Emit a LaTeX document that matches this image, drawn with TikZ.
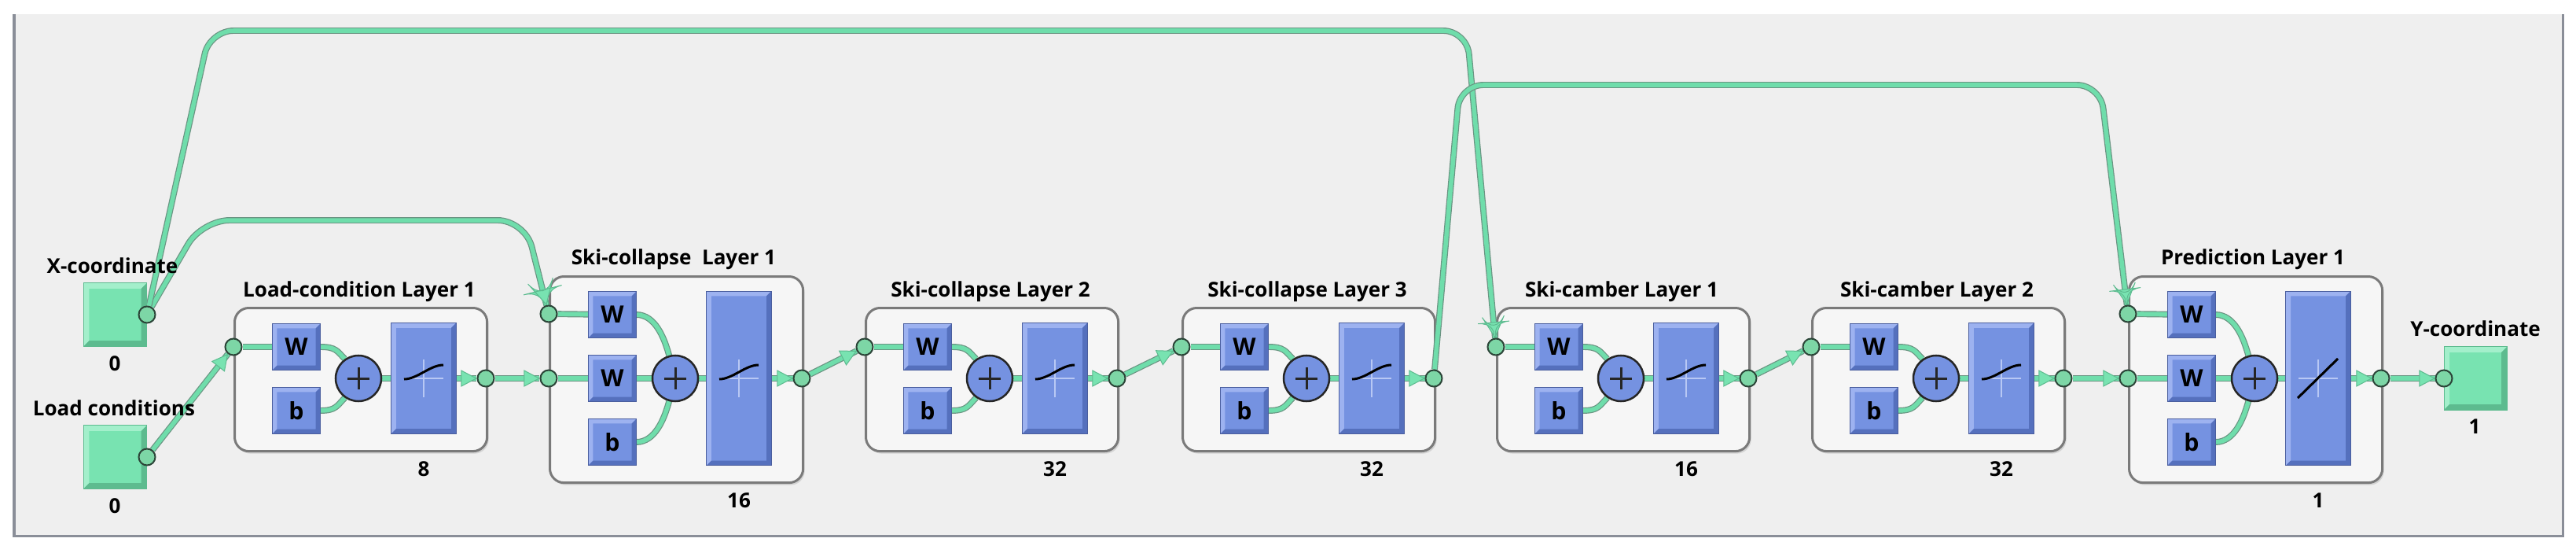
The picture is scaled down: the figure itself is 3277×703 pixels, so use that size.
\documentclass[tikz,border=0pt]{standalone}
\usepackage{fontspec}
\setmainfont{Open Sans}
\usetikzlibrary{decorations.markings,shadows}
\pgfdeclarelayer{bg}
\pgfdeclarelayer{wires}
\pgfsetlayers{bg,wires,main}
\definecolor{panelbg}{HTML}{EFEFEF}
\definecolor{paneledge}{HTML}{8A8E98}
\definecolor{boxfill}{HTML}{F6F6F6}
\definecolor{boxedge}{HTML}{7A7A7A}
\definecolor{blk}{HTML}{7592E1}
\definecolor{blklight}{HTML}{9DB2F0}
\definecolor{blkdark}{HTML}{5570BD}
\definecolor{blkedge}{HTML}{4A5E9E}
\definecolor{grn}{HTML}{78E3B1}
\definecolor{grnlight}{HTML}{A3EFCB}
\definecolor{grndark}{HTML}{5DBB8F}
\definecolor{wiregrn}{HTML}{6FDDAB}
\definecolor{wireedge}{HTML}{6A9482}
\definecolor{portgrn}{HTML}{7DD6A6}
\definecolor{portedge}{HTML}{2B4538}
\definecolor{crossw}{HTML}{B8C8F4}
\newcommand\mybevel[3]{%
  \fill[#1] (path picture bounding box.north west) -- (path picture bounding box.north east)
     -- ([shift={(-#3,-#3)}]path picture bounding box.north east)
     -- ([shift={(#3,-#3)}]path picture bounding box.north west)
     -- ([shift={(#3,#3)}]path picture bounding box.south west)
     -- (path picture bounding box.south west) -- cycle;
  \fill[#2] (path picture bounding box.south east) -- (path picture bounding box.south west)
     -- ([shift={(#3,#3)}]path picture bounding box.south west)
     -- ([shift={(-#3,#3)}]path picture bounding box.south east)
     -- ([shift={(-#3,-#3)}]path picture bounding box.north east)
     -- (path picture bounding box.north east) -- cycle;}
\tikzset{
  lbl/.style={font=\bfseries\fontsize{7.4}{8}\selectfont, inner sep=0pt, anchor=base},
  bluebox/.style={fill=blk, draw=blkedge, line width=0.01cm, inner sep=0pt, outer sep=0pt,
     font=\bfseries\fontsize{8.6}{9}\selectfont,
     path picture={\mybevel{blklight}{blkdark}{0.06cm}}},
  wblk/.style={bluebox, minimum width=0.61cm, minimum height=0.59cm},
  tfblk/.style={bluebox, minimum width=0.82cm},
  plusnode/.style={circle, fill=blk, draw=black!85, line width=0.025cm, minimum size=0.58cm, inner sep=0pt,
     path picture={\draw[line width=0.03cm] ([xshift=-0.14cm]path picture bounding box.center) -- ([xshift=0.14cm]path picture bounding box.center);
                   \draw[line width=0.03cm] ([yshift=-0.14cm]path picture bounding box.center) -- ([yshift=0.14cm]path picture bounding box.center);}},
  port/.style={circle, fill=portgrn, draw=portedge, line width=0.02cm, minimum size=0.21cm, inner sep=0pt},
  sq/.style={fill=grn, draw=grndark, line width=0.01cm, minimum size=0.8cm, inner sep=0pt,
     path picture={\mybevel{grnlight}{grndark}{0.07cm}}},
  layerbox/.style={draw=boxedge, line width=0.03cm, fill=boxfill, rounded corners=0.18cm,
     inner sep=0pt, anchor=north west,
     drop shadow={opacity=0.25, shadow xshift=0.02cm, shadow yshift=-0.03cm}},
  wire/.style={draw=wireedge, line width=0.012cm, double=wiregrn, double distance=0.055cm},
  awire/.style={wire, postaction={decorate, decoration={markings,
     mark=at position -0.2pt with {\fill[draw=grndark, fill=grn, line width=0.01cm] (0,0) -- (-0.19cm,0.1cm) -- (-0.19cm,-0.1cm) -- cycle;}}}},
  glyph/.style={line width=0.03cm, black},
  crossline/.style={crossw, line width=0.02cm}
}
\newcommand\tansig[1]{%
  \draw[crossline] ([xshift=-0.25cm]#1.center) -- ([xshift=0.25cm]#1.center);
  \draw[crossline] ([yshift=-0.24cm]#1.center) -- ([yshift=0.24cm]#1.center);
  \draw[glyph] ([shift={(-0.25cm,-0.01cm)}]#1.center) .. controls +(0.17cm,0) and +(-0.17cm,0) .. ([shift={(0.25cm,0.17cm)}]#1.center);}
\newcommand\purelin[1]{%
  \draw[crossline] ([xshift=-0.25cm]#1.center) -- ([xshift=0.25cm]#1.center);
  \draw[crossline] ([yshift=-0.24cm]#1.center) -- ([yshift=0.24cm]#1.center);
  \draw[glyph] ([shift={(-0.26cm,-0.25cm)}]#1.center) -- ([shift={(0.25cm,0.25cm)}]#1.center);}
% standard layer: name, left x, title, size
\newcommand\stdlayer[4]{%
  \begin{pgfonlayer}{bg}
    \node[layerbox, minimum width=3.21cm, minimum height=1.82cm] (#1box) at (#2,390) {};
  \end{pgfonlayer}
  \node[lbl] (#1title) at ({#2+160},377) {#3};
  \node[lbl] (#1size) at ({#2+242},605) {#4};
  \node[wblk] (#1W) at ({#2+80},441) {W};
  \node[wblk] (#1b) at ({#2+80},522) {b};
  \node[plusnode] (#1plus) at ({#2+159},481) {};
  \node[tfblk, minimum height=1.40cm] (#1tf) at ({#2+242},481) {};
  \node[port] (#1in) at (#2,441) {};
  \node[port] (#1out) at ({#2+321},481) {};
  \begin{pgfonlayer}{wires}
    \draw[wire] (#1in) -- (#1W);
    \draw[wire] (#1W.east) .. controls +(0.2cm,0) and +(-0.1cm,0.1cm) .. (#1plus.125);
    \draw[wire] (#1b.east) .. controls +(0.2cm,0) and +(-0.1cm,-0.1cm) .. (#1plus.235);
    \draw[wire] (#1plus) -- (#1tf);
    \draw[awire] (#1tf) -- (#1out);
  \end{pgfonlayer}
  \tansig{#1tf}}
% three-input layer: name, left x, title, size, glyph
\newcommand\trilayer[5]{%
  \begin{pgfonlayer}{bg}
    \node[layerbox, minimum width=3.22cm, minimum height=2.62cm] (#1box) at (#2,350) {};
  \end{pgfonlayer}
  \node[lbl] (#1title) at ({#2+159},336) {#3};
  \node[lbl] (#1size) at ({#2+242},645) {#4};
  \node[wblk] (#1Wa) at ({#2+81},400) {W};
  \node[wblk] (#1Wb) at ({#2+81},481) {W};
  \node[wblk] (#1b) at ({#2+81},562) {b};
  \node[plusnode] (#1plus) at ({#2+161},481) {};
  \node[tfblk, minimum height=2.21cm] (#1tf) at ({#2+242},481) {};
  \node[port] (#1top) at (#2,399) {};
  \node[port] (#1in) at (#2,481) {};
  \node[port] (#1out) at ({#2+322},481) {};
  \begin{pgfonlayer}{wires}
    \draw[wire] (#1top) -- (#1Wa);
    \draw[wire] (#1in) -- (#1Wb);
    \draw[wire] (#1Wa.east) .. controls +(0.24cm,0) and +(-0.06cm,0.22cm) .. (#1plus.105);
    \draw[wire] (#1b.east) .. controls +(0.24cm,0) and +(-0.06cm,-0.22cm) .. (#1plus.255);
    \draw[wire] (#1Wb) -- (#1plus);
    \draw[wire] (#1plus) -- (#1tf);
    \draw[awire] (#1tf) -- (#1out);
  \end{pgfonlayer}
  #5{#1tf}}
\begin{document}
\begin{tikzpicture}[x=0.01cm, y=-0.01cm]
\useasboundingbox (0,0) rectangle (3277,703);
\begin{pgfonlayer}{bg}
  \fill[white] (0,0) rectangle (3277,703);
  \fill[panelbg] (18,18) rectangle (3260,681);
  \draw[paneledge, line width=0.03cm] (18,18) -- (18,681) -- (3260,681) -- (3260,18);
\end{pgfonlayer}
% inputs
\node[lbl] (xlbl) at (143,347) {X-coordinate};
\node[sq] (xsq) at (146.5,400) {};
\node[lbl] (xnum) at (146,471) {0};
\node[port] (xport) at (187,400) {};
\node[lbl] (ldlbl) at (145,528) {Load conditions};
\node[sq] (ldsq) at (146.5,581) {};
\node[lbl] (ldnum) at (146,652) {0};
\node[port] (loadport) at (187,581) {};
% layers
\stdlayer{lc}{297}{Load-condition Layer 1}{8}
\trilayer{sca}{698}{Ski-collapse\ \ Layer 1}{16}{\tansig}
\stdlayer{scb}{1100}{Ski-collapse Layer 2}{32}
\stdlayer{scc}{1503}{Ski-collapse Layer 3}{32}
\stdlayer{cma}{1903}{Ski-camber Layer 1}{16}
\stdlayer{cmb}{2304}{Ski-camber Layer 2}{32}
\trilayer{pr}{2707}{Prediction Layer 1}{1}{\purelin}
% output
\node[lbl] (ylbl) at (3149,427) {Y-coordinate};
\node[sq] (ysq) at (3149,481) {};
\node[lbl] (ynum) at (3148,551) {1};
\node[port] (yport) at (3109,481) {};
% connections
\begin{pgfonlayer}{wires}
  \draw[awire] (loadport) -- (lcin);
  \draw[awire, rounded corners=0.35cm] (xport) -- (257,280) -- (668,280) -- (scatop);
  \draw[awire, rounded corners=0.3cm] (xport) -- (267,39) -- (1866,39) -- (cmain);
  \draw[awire] (lcout) -- (scain);
  \draw[awire] (scaout) -- (scbin);
  \draw[awire] (scbout) -- (sccin);
  \draw[awire, rounded corners=0.3cm] (sccout) -- (1857,108) -- (2672,108) -- (prtop);
  \draw[awire] (cmaout) -- (cmbin);
  \draw[awire] (cmbout) -- (prin);
  \draw[awire] (prout) -- (yport);
\end{pgfonlayer}
\end{tikzpicture}
\end{document}
